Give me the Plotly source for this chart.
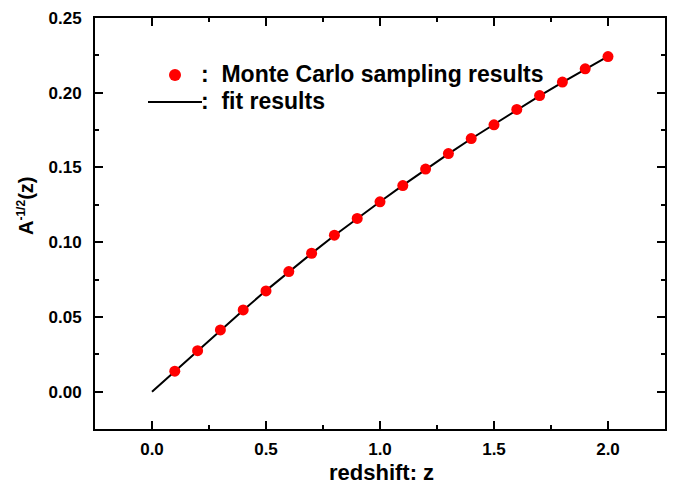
import plotly.graph_objects as go

# Monte Carlo sampling results
z_mc = [0.1, 0.2, 0.3, 0.4, 0.5, 0.6, 0.7, 0.8, 0.9, 1.0,
        1.1, 1.2, 1.3, 1.4, 1.5, 1.6, 1.7, 1.8, 1.9, 2.0]
a_mc = [0.0137, 0.0274, 0.0413, 0.0547, 0.0674, 0.0803, 0.0926, 0.1047, 0.1159, 0.1270,
        0.1379, 0.1489, 0.1593, 0.1693, 0.1785, 0.1888, 0.1981, 0.2071, 0.2160, 0.2242]

# fit results
z_fit = [0.0, 0.1, 0.2, 0.3, 0.4, 0.5, 0.6, 0.7, 0.8, 0.9, 1.0,
         1.1, 1.2, 1.3, 1.4, 1.5, 1.6, 1.7, 1.8, 1.9, 2.0]
a_fit = [0.0, 0.0137, 0.0274, 0.0410, 0.0545, 0.0676, 0.0802, 0.0925, 0.1045, 0.1160, 0.1271,
         0.1380, 0.1487, 0.1591, 0.1692, 0.1789, 0.1885, 0.1979, 0.2070, 0.2159, 0.2244]

x_ticks = [0.0, 0.5, 1.0, 1.5, 2.0]
x_ticklabels = ["0.0", "0.5", "1.0", "1.5", "2.0"]
y_ticks = [0.00, 0.05, 0.10, 0.15, 0.20, 0.25]
y_ticklabels = ["0.00", "0.05", "0.10", "0.15", "0.20", "0.25"]

legend_labels = [":  Monte Carlo sampling results", ":  fit results"]

FONT = "Liberation Sans, Arial, sans-serif"

fig = go.Figure()
fig.add_trace(go.Scatter(x=z_fit, y=a_fit, mode="lines",
                         line=dict(color="black", width=2), showlegend=False))
fig.add_trace(go.Scatter(x=z_mc, y=a_mc, mode="markers",
                         marker=dict(color="#ff0000", size=11, line=dict(width=0)),
                         showlegend=False))

W, H = 676, 490
L, R, T, B = 95, 11, 18, 61
pw, ph = W - L - R, H - T - B

def px(xp):
    return (xp - L) / pw

def py(yp):
    return (H - B - yp) / ph

# legend drawn manually
fig.add_shape(type="line", xref="paper", yref="paper",
              x0=px(148), x1=px(202), y0=py(102), y1=py(102),
              line=dict(color="black", width=2))
fig.add_trace(go.Scatter(x=[px(175)], y=[py(75)], xaxis="x2", yaxis="y2",
                         mode="markers", marker=dict(color="#ff0000", size=12),
                         showlegend=False, hoverinfo="skip"))
fig.add_annotation(xref="paper", yref="paper", x=px(199), y=py(74),
                   xanchor="left", yanchor="middle", showarrow=False,
                   text="<b>" + legend_labels[0] + "</b>",
                   font=dict(family=FONT, size=23, color="black"))
fig.add_annotation(xref="paper", yref="paper", x=px(199), y=py(101),
                   xanchor="left", yanchor="middle", showarrow=False,
                   text="<b>" + legend_labels[1] + "</b>",
                   font=dict(family=FONT, size=23, color="black"))

# axis titles
fig.add_annotation(xref="paper", yref="paper", x=px(381), y=py(472),
                   xanchor="center", yanchor="middle", showarrow=False,
                   text="<b>redshift: z</b>",
                   font=dict(family=FONT, size=22, color="black"))
fig.add_annotation(xref="paper", yref="paper", x=px(25), y=py(206),
                   xanchor="center", yanchor="middle", showarrow=False,
                   textangle=-90,
                   text="<b>A<sup><span style='font-size:12px'>-1/2</span></sup>(z)</b>",
                   font=dict(family=FONT, size=20, color="black"))

axis_common = dict(
    showgrid=False, zeroline=False, showline=True, linecolor="black", linewidth=2,
    mirror="ticks", ticks="inside", ticklen=8, tickwidth=1.5, tickcolor="black",
    tickfont=dict(family=FONT, size=17, color="black"), automargin=False,
)

fig.update_layout(
    width=W, height=H,
    margin=dict(l=L, r=R, t=T, b=B),
    paper_bgcolor="white", plot_bgcolor="white",
    showlegend=False,
    xaxis=dict(range=[-0.25, 2.25], tickvals=x_ticks,
               ticktext=["<b>%s</b>" % t for t in x_ticklabels],
               minor=dict(ticks="inside", ticklen=4, tickwidth=1.5, dtick=0.25, tick0=0, tickcolor="black"),
               ticklabelstandoff=4,
               **axis_common),
    yaxis=dict(range=[-0.025, 0.25], tickvals=y_ticks,
               ticktext=["<b>%s</b>" % t for t in y_ticklabels],
               minor=dict(ticks="inside", ticklen=4, tickwidth=1.5, dtick=0.025, tick0=0, tickcolor="black"),
               ticklabelstandoff=8,
               **axis_common),
    xaxis2=dict(range=[0, 1], domain=[0, 1], overlaying="x", visible=False, fixedrange=True),
    yaxis2=dict(range=[0, 1], domain=[0, 1], overlaying="y", visible=False, fixedrange=True),
)

fig.write_html("out.html", config={"displayModeBar": False},
               post_script="document.body.style.margin='0';document.body.style.padding='0';")
